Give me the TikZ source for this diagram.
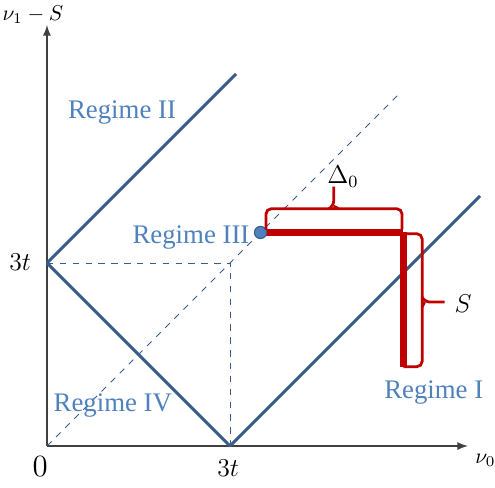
\documentclass[tikz,border=0pt]{standalone}
\usepackage{fontspec}
\newfontfamily\regfont{Liberation Serif}
\definecolor{lineblue}{HTML}{385D8A}
\definecolor{textblue}{HTML}{4F81BD}
\definecolor{darkred}{HTML}{C00000}

\begin{document}
\begin{tikzpicture}[
    regime/.style={text=textblue, font=\regfont\fontsize{12.5}{14}\selectfont},
    bound/.style={lineblue, line width=1.4pt},
    guide/.style={lineblue, dashed, line width=0.45pt},
    axis/.style={black!75, line width=0.7pt, -latex},
    redbrace/.style={darkred, line width=1.3pt, rounded corners=2.5pt}
  ]
    \useasboundingbox (-0.77,-0.672) rectangle (7.344,7.311);

    %----------------------------------------
    % KEY POINTS (unit = t)
    %----------------------------------------
    \coordinate (O) at (0,0);
    \coordinate (Y3) at (0,3);
    \coordinate (X3) at (3,0);
    \coordinate (M) at (3,3);
    \coordinate (P) at (3.5,3.5);
    \coordinate (C) at (5.84,3.5);
    \coordinate (D) at (5.84,1.3);

    % axes
    \draw[axis] (O) -- (0,6.9);
    \draw[axis] (O) -- (6.9,0);

    % dashed guides
    \draw[guide] (O) -- (5.8,5.8);
    \draw[guide] (Y3) -- (M) -- (X3);

    % regime boundaries
    \draw[bound] (Y3) -- (3.1,6.1);
    \draw[bound] (Y3) -- (X3);
    \draw[bound] (X3) -- (7.1,4.1);

    %----------------------------------------
    % Delta_0 and S
    %----------------------------------------
    \draw[darkred, line width=3pt] (P) -- (C);
    \draw[darkred, line width=3.4pt] (C) -- (D);
    \filldraw[fill=textblue, draw=lineblue, line width=0.5pt] (P) circle (0.1);

    % brace over Delta_0
    \draw[redbrace] (3.59,3.55) -- (3.59,3.89) -- (4.70,3.89) -- (5.82,3.89) -- (5.82,3.55);
    \draw[redbrace] (4.62,3.89) -- (4.70,3.93) -- (4.70,4.25);
    \draw[redbrace] (4.78,3.89) -- (4.70,3.93);

    % brace beside S
    \draw[redbrace] (5.84,3.48) -- (6.15,3.48) -- (6.15,2.36) -- (6.15,1.30) -- (5.84,1.30);
    \draw[redbrace] (6.15,2.44) -- (6.19,2.36) -- (6.52,2.36);
    \draw[redbrace] (6.15,2.28) -- (6.19,2.36);

    \node (delta) at (4.85,4.41) {\large $\Delta_0$};
    \node (slab) at (6.82,2.34) {\large $S$};

    % labels
    \node[regime] (r1) at (6.34,0.87) {Regime I};
    \node[regime] (r2) at (1.23,5.46) {Regime II};
    \node[regime] (r3) at (2.36,3.41) {Regime III};
    \node[regime] (r4) at (1.08,0.67) {Regime IV};

    \node (ty) at (-0.44,3.02) {\large $3t$};
    \node (tx) at (2.97,-0.36) {\large $3t$};
    \node (zero) at (-0.11,-0.33) {\Large $0$};
    \node (ylab) at (-0.23,7.07) {$\nu_1 - S$};
    \node[anchor=west, inner sep=1pt] (xlab) at (6.98,-0.23) {$\nu_0$};

\end{tikzpicture}
\end{document}
